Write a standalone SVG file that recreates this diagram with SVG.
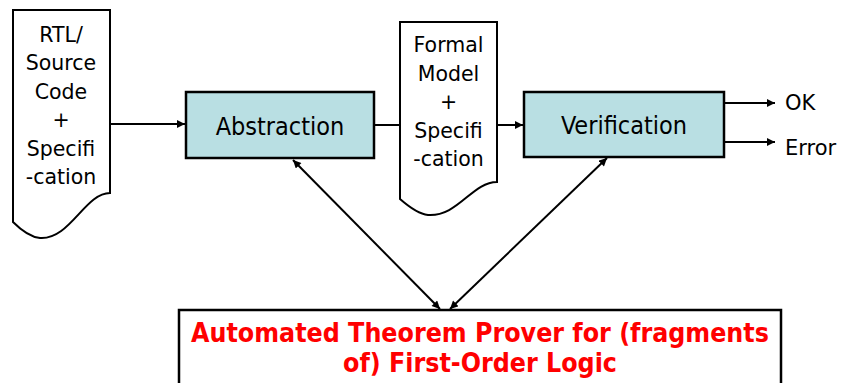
<svg xmlns="http://www.w3.org/2000/svg" width="849" height="383" viewBox="0 0 849 383">
<style>
.doc{fill:#fff;stroke:#000;stroke-width:2}
.box{fill:#B9DFE3;stroke:#000;stroke-width:2.5}
.t{font-family:"DejaVu Sans Condensed","DejaVu Sans",sans-serif;font-stretch:condensed;fill:#000;text-anchor:middle}
.lbl{font-size:25px}
.dt{font-family:"DejaVu Sans",sans-serif;font-size:20.5px;fill:#000;text-anchor:middle}
.out{font-family:"DejaVu Sans",sans-serif;font-size:21px;fill:#000}
.red{font-family:"DejaVu Sans Condensed","DejaVu Sans",sans-serif;font-stretch:condensed;font-weight:bold;font-size:26.5px;fill:#FF0000;text-anchor:middle}
.ln{stroke:#000;stroke-width:2;fill:none}
</style>
<defs>
<marker id="ah" viewBox="0 0 10 10" refX="10" refY="5" markerWidth="9" markerHeight="8" markerUnits="userSpaceOnUse" orient="auto-start-reverse">
<path d="M0,0 L10,5 L0,10 Z" fill="#000"/>
</marker>
</defs>
<g id="connectors">
<line class="ln" x1="110" y1="124" x2="185" y2="124" marker-end="url(#ah)"/>
<line class="ln" x1="374" y1="125" x2="400" y2="125"/>
<line class="ln" x1="497" y1="125" x2="523" y2="125" marker-end="url(#ah)"/>
<line class="ln" x1="725" y1="103" x2="775" y2="103" marker-end="url(#ah)"/>
<line class="ln" x1="725" y1="142" x2="775" y2="142" marker-end="url(#ah)"/>
<line class="ln" x1="293" y1="160" x2="440" y2="309" marker-start="url(#ah)" marker-end="url(#ah)"/>
<line class="ln" x1="607" y1="158" x2="450" y2="309" marker-start="url(#ah)" marker-end="url(#ah)"/>
</g>
<g id="rtl">
<path class="doc" d="M13,10 H110 V193 C85,193 70,240 40,238 C30,237 20,229 13,222 Z"/>
<text class="dt" x="61" y="42">RTL/</text>
<text class="dt" x="61" y="70.4">Source</text>
<text class="dt" x="61" y="98.8">Code</text>
<text class="dt" x="61" y="127.2">+</text>
<text class="dt" x="61" y="155.6">Specifi</text>
<text class="dt" x="61" y="184">-cation</text>
</g>
<g id="abstraction">
<rect class="box" x="186" y="92" width="188" height="66"/>
<text class="t lbl" x="280" y="135">Abstraction</text>
</g>
<g id="formal">
<path class="doc" d="M400,22 H497 V182 C472,182 458,217 428,215 C418,214 408,206 400,199 Z"/>
<text class="dt" x="448.5" y="52">Formal</text>
<text class="dt" x="448.5" y="80.5">Model</text>
<text class="dt" x="448.5" y="109">+</text>
<text class="dt" x="448.5" y="137.5">Specifi</text>
<text class="dt" x="448.5" y="166">-cation</text>
</g>
<g id="verification">
<rect class="box" x="524" y="92" width="200" height="65"/>
<text class="t lbl" x="624" y="134">Verification</text>
</g>
<g id="outputs">
<text class="out" x="785" y="110">OK</text>
<text class="out" x="785" y="155">Error</text>
</g>
<g id="prover">
<rect x="179" y="310" width="602" height="90" fill="#fff" stroke="#000" stroke-width="2.5"/>
<text class="red" x="480" y="342">Automated Theorem Prover for (fragments</text>
<text class="red" x="480" y="372">of) First-Order Logic</text>
</g>
</svg>
